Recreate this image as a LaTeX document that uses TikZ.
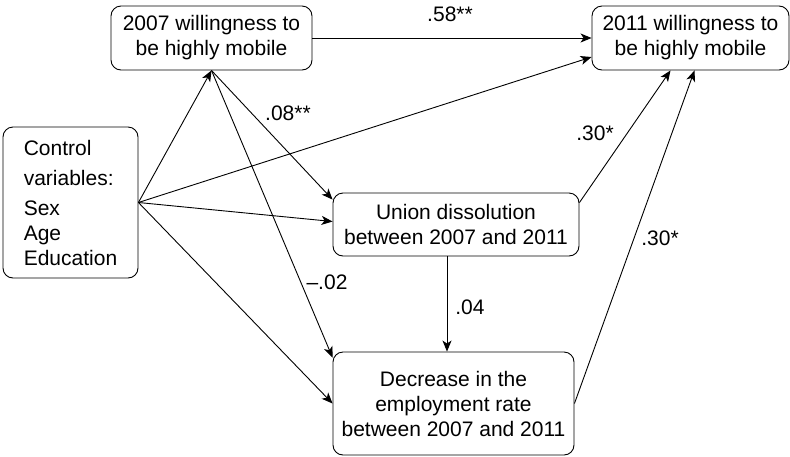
\documentclass[tikz,border=0pt]{standalone}
\usepackage{fontspec}
\setmainfont{Liberation Sans}
\usetikzlibrary{arrows.meta}
\begin{document}
\begin{tikzpicture}[x=1pt,y=-1pt,
  box/.style={draw, line width=0.9pt, rounded corners=10pt, align=center, inner sep=0pt,
    font=\fontsize{21}{25}\selectfont},
  conn/.style={line width=0.9pt, -{Stealth[length=11pt,width=9pt,inset=3pt]}},
  lbl/.style={font=\fontsize{21}{25}\selectfont, inner sep=0pt}]
\useasboundingbox (0,0) rectangle (790,456);
\node[box, minimum width=201pt, minimum height=64pt] (A) at (211.5,38) {2007 willingness to\\be highly mobile};
\node[box, minimum width=197pt, minimum height=64pt] (B) at (690.5,38) {2011 willingness to\\be highly mobile};
\node[box, minimum width=135pt, minimum height=151pt, align=left] (C) at (70.5,202.5) {Control\\[5pt]variables:\\[5pt]Sex\\Age\\Education};
\node[box, minimum width=246pt, minimum height=63pt] (U) at (456,224.5) {Union dissolution\\between 2007 and 2011};
\node[box, minimum width=241pt, minimum height=103pt] (D) at (453.5,403.5) {Decrease in the\\employment rate\\between 2007 and 2011};

\draw[conn] (A.east) -- (B.west);
\draw[conn] (C.east) -- (A.south);
\draw[conn] (C.east) -- ([yshift=-19pt]B.west);
\draw[conn] (C.east) -- ([yshift=3pt]U.west);
\draw[conn] (C.east) -- (D.west);
\draw[conn] (A.south) -- ([yshift=-7pt]U.north west);
\draw[conn] (A.south) -- ([yshift=-6pt]D.north west);
\draw[conn] ([yshift=-10pt]U.north east) -- ([xshift=-20pt]B.south);
\draw[conn] (D.east) -- ([xshift=4pt]B.south);
\draw[conn] ([xshift=-9pt]U.south) -- ([xshift=-9pt]U.south |- D.north);

\node[lbl] (l58) at (450,14) {.58**};
\node[lbl] (l08) at (288,113) {.08**};
\node[lbl] (l02) at (327,282) {--.02};
\node[lbl] (l30a) at (595,133) {.30*};
\node[lbl] (l30b) at (660,238) {.30*};
\node[lbl] (l04) at (470,307) {.04};
\end{tikzpicture}
\end{document}
